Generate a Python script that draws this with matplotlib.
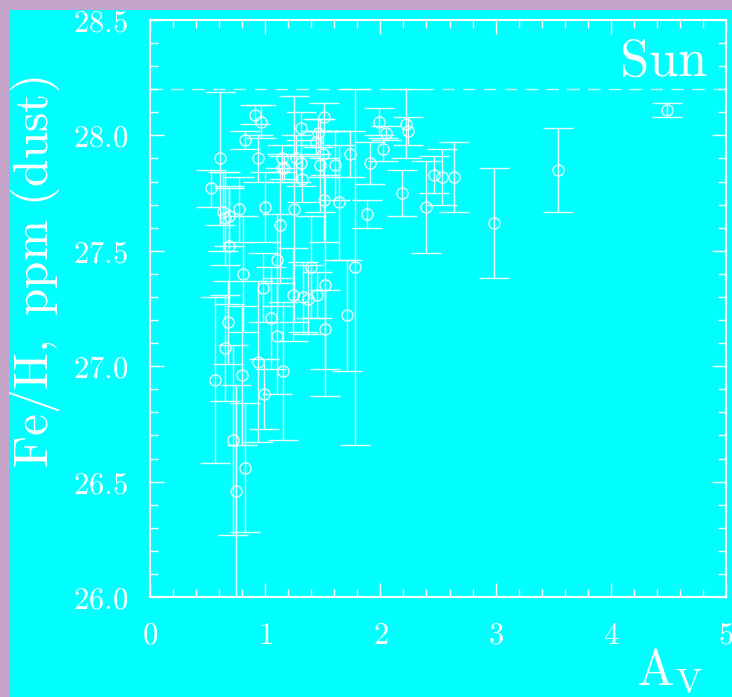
import matplotlib
matplotlib.use("Agg")
import matplotlib.pyplot as plt
from matplotlib.patches import Rectangle
from matplotlib.ticker import MultipleLocator, FuncFormatter

plt.rcParams['mathtext.fontset'] = 'cm'

# A_V, Fe/H (ppm, dust) and symmetric error
av = [0.53, 0.56, 0.61, 0.63, 0.65, 0.65, 0.675, 0.69, 0.69, 0.72,
      0.75, 0.77, 0.80, 0.81, 0.825, 0.825, 0.91, 0.94, 0.94, 0.96,
      0.98, 0.99, 1.00, 1.05, 1.10, 1.10, 1.13, 1.143, 1.15, 1.155,
      1.16, 1.24, 1.25, 1.27, 1.31, 1.31, 1.32, 1.33, 1.37, 1.40,
      1.44, 1.45, 1.46, 1.48, 1.50, 1.51, 1.51, 1.52, 1.52, 1.61,
      1.64, 1.71, 1.74, 1.78, 1.88, 1.91, 1.99, 2.02, 2.05, 2.19,
      2.22, 2.24, 2.40, 2.465, 2.535, 2.64, 2.99, 3.54, 4.485]
feh = [27.77, 26.94, 27.90, 27.67, 27.64, 27.08, 27.19, 27.65, 27.52, 26.68,
       26.46, 27.68, 26.96, 27.40, 27.98, 26.56, 28.09, 27.90, 27.02, 28.06,
       27.34, 26.88, 27.69, 27.21, 27.46, 27.13, 27.61, 27.90, 27.86, 26.98,
       27.86, 27.31, 27.68, 27.90, 27.88, 28.03, 27.81, 27.30, 27.29, 27.43,
       27.97, 27.31, 28.01, 27.87, 27.92, 28.08, 27.72, 27.35, 27.16, 27.87,
       27.71, 27.22, 27.92, 27.43, 27.66, 27.88, 28.06, 27.94, 28.01, 27.75,
       28.05, 28.02, 27.69, 27.83, 27.82, 27.82, 27.62, 27.85, 28.11]
err = [0.08, 0.36, 0.29, 0.17, 0.20, 0.23, 0.18, 0.13, 0.25, 0.41,
       0.46, 0.14, 0.30, 0.25, 0.04, 0.28, 0.04, 0.10, 0.35, 0.07,
       0.15, 0.15, 0.15, 0.22, 0.20, 0.25, 0.25, 0.06, 0.06, 0.30,
       0.05, 0.20, 0.49, 0.10, 0.10, 0.07, 0.10, 0.15, 0.15, 0.22,
       0.05, 0.10, 0.06, 0.20, 0.10, 0.06, 0.18, 0.48, 0.17, 0.15,
       0.25, 0.24, 0.10, 0.77, 0.06, 0.09, 0.06, 0.05, 0.03, 0.10,
       0.15, 0.06, 0.20, 0.08, 0.12, 0.15, 0.24, 0.18, 0.03]
solar = 28.2

W, H = 732, 697
cyan = '#00ffff'
fig = plt.figure(figsize=(W / 100, H / 100), dpi=100)
fig.patch.set_facecolor('#c4a4c8')
fig.patches.append(Rectangle((10 / W, 0), 1, (H - 10) / H, transform=fig.transFigure,
                             facecolor=cyan, edgecolor='none', zorder=-10))

ax = fig.add_axes([150 / W, (H - 597) / H, 576 / W, 577 / H])
ax.set_zorder(2)
ax.set_facecolor(cyan)

ax.errorbar(av, feh, yerr=err, fmt='o', ms=8, mfc='none', mec='white', mew=1,
            ecolor='white', elinewidth=1, capsize=11, capthick=1, alpha=0.9)
ax.axhline(solar, color='white', lw=1, ls=(0, (9, 6)), alpha=0.8)

ax.set_xlim(0, 5)
ax.set_ylim(26.0, 28.5)
ax.xaxis.set_major_locator(MultipleLocator(1))
ax.xaxis.set_minor_locator(MultipleLocator(0.2))
ax.yaxis.set_major_locator(MultipleLocator(0.5))
ax.yaxis.set_minor_locator(MultipleLocator(0.1))
ax.xaxis.set_major_formatter(FuncFormatter(lambda v, p: r'$%d$' % round(v)))
ax.yaxis.set_major_formatter(FuncFormatter(lambda v, p: r'$%.1f$' % v))

for s in ax.spines.values():
    s.set_color('white')
    s.set_linewidth(1.5)
ax.tick_params(which='both', direction='in', top=True, right=True, colors='white', width=1)
ax.tick_params(which='major', length=10)
ax.tick_params(which='minor', length=6)
ax.tick_params(axis='y', which='major', pad=16, labelsize=22)
ax.tick_params(axis='x', which='major', pad=17, labelsize=22)

fig.text(35 / W, 1 - 272 / H, r'$\mathrm{Fe/H,\ ppm\ (dust)}$', color='white',
         fontsize=35.5, rotation=90, ha='center', va='center', zorder=5)
ax.text(0.969, 0.974, r'$\mathrm{Sun}$', color='white', fontsize=38,
        ha='right', va='top', transform=ax.transAxes)
fig.text(670 / W, 1 - 672 / H, r'$\mathrm{A_V}$', color='white', fontsize=36,
         ha='center', va='center', zorder=5)

fig.savefig('out.png', dpi=100, facecolor=fig.get_facecolor())
